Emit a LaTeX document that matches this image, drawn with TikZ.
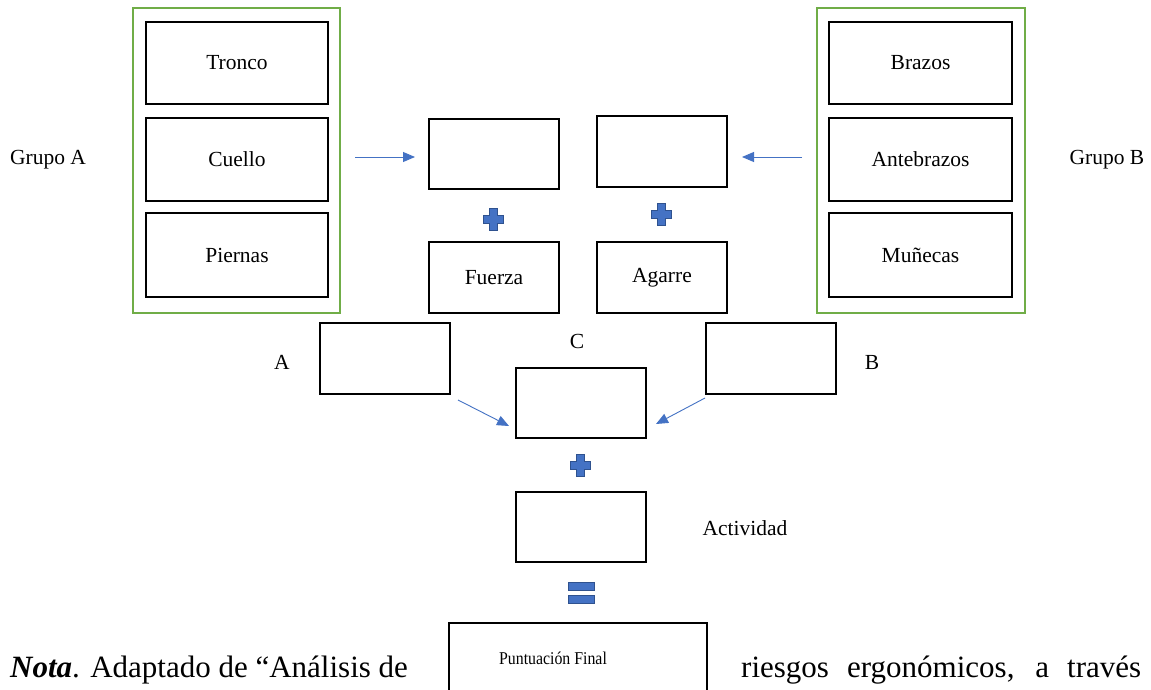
\documentclass[tikz,border=0pt]{standalone}
\usepackage{fontspec}
\setmainfont{Liberation Serif}
\usetikzlibrary{arrows.meta}
\definecolor{grn}{HTML}{70AD47}
\definecolor{blu}{HTML}{4472C4}
\definecolor{bludk}{HTML}{2F528F}
\tikzset{
  bx/.style={draw=black,line width=1.5pt,fill=white},
  grp/.style={draw=grn,line width=1.3pt},
  lbl/.style={font=\fontsize{21.5}{24}\selectfont},
  arr/.style={draw=blu,line width=0.9pt,-{Triangle[length=12pt,width=10pt]}},
  sym/.style={fill=blu,draw=bludk,line width=1pt},
}
\newcommand{\plussign}[2]{%
  \fill[sym] (#1-4,#2-11) -- (#1+4,#2-11) -- (#1+4,#2-4) -- (#1+10,#2-4) -- (#1+10,#2+4) -- (#1+4,#2+4) -- (#1+4,#2+11) -- (#1-4,#2+11) -- (#1-4,#2+4) -- (#1-10,#2+4) -- (#1-10,#2-4) -- (#1-4,#2-4) -- cycle;}
\begin{document}
\begin{tikzpicture}[x=1pt,y=-1pt]
\useasboundingbox (0,0) rectangle (1151,690);
\fill[white] (0,0) rectangle (1151,690);
% groups
\draw[grp] (133,8) rectangle (340,313);
\draw[grp] (817,8) rectangle (1025,313);
\node[bx,lbl,minimum width=182pt,minimum height=82pt] (tronco) at (237,63) {Tronco};
\node[bx,lbl,minimum width=182pt,minimum height=83pt] (cuello) at (237,159.5) {Cuello};
\node[bx,lbl,minimum width=182pt,minimum height=84pt] (piernas) at (237,255) {Piernas};
\node[bx,lbl,minimum width=183pt,minimum height=82pt] (brazos) at (920.5,63) {Brazos};
\node[bx,lbl,minimum width=183pt,minimum height=83pt] (antebrazos) at (920.5,159.5) {Antebrazos};
\node[bx,lbl,minimum width=183pt,minimum height=84pt] (munecas) at (920.5,255) {Muñecas};
\node[lbl] (grupoA) at (48,160) {Grupo A};
\node[lbl] (grupoB) at (1107,160) {Grupo B};
% middle boxes
\node[bx,minimum width=130pt,minimum height=70pt] (ga) at (494,154) {};
\node[bx,minimum width=130pt,minimum height=71pt] (gb) at (662,151.5) {};
\node[bx,lbl,minimum width=130pt,minimum height=71pt] (fuerza) at (494,277.5) {Fuerza};
\node[bx,lbl,minimum width=130pt,minimum height=71pt] (agarre) at (662,277.5) {Agarre};
\coordinate (la) at (355,157);
\coordinate (la2) at (415,157);
\coordinate (rb) at (802,157);
\coordinate (rb2) at (742,157);
\draw[arr] (la) -- (la2);
\draw[arr] (rb) -- (rb2);
\plussign{493}{219}
\plussign{661}{214}
% A, B, C
\node[bx,minimum width=130pt,minimum height=71pt] (boxA) at (385,358.5) {};
\node[bx,minimum width=130pt,minimum height=71pt] (boxB) at (771,358.5) {};
\node[bx,minimum width=130pt,minimum height=70pt] (boxC) at (581,403) {};
\node[lbl] (labA) at (282,362) {A};
\node[lbl] (labB) at (872,362) {B};
\node[lbl] (labC) at (577,341) {C};
\coordinate (sa) at (458,400);
\coordinate (sb) at (705,398);
\coordinate (ta) at (509,426);
\coordinate (tb) at (656,424);
\draw[arr] (sa) -- (ta);
\draw[arr] (sb) -- (tb);
\plussign{580}{465}
\node[bx,minimum width=130pt,minimum height=70pt] (act) at (581,527) {};
\node[lbl] (labAct) at (745,528) {Actividad};
\fill[sym] (568,582) rectangle (594,590);
\fill[sym] (568,595) rectangle (594,603);
\node[bx,minimum width=258pt,minimum height=80pt,anchor=north] (final) at (578,622) {};
\node[font=\fontsize{18}{20}\selectfont] (finaltxt) at (553,658) {\scalebox{0.88}[1]{Puntuación Final}};
\node[font=\fontsize{31}{34}\selectfont,anchor=base west,inner sep=0pt] (nota) at (10,677) {\textbf{\textit{Nota}}. Adaptado de “Análisis de};
\node[font=\fontsize{31}{34}\selectfont,anchor=base west,inner sep=0pt] (riesgos) at (741,677) {\makebox[400pt][s]{riesgos ergonómicos, a través}};
\end{tikzpicture}
\end{document}
